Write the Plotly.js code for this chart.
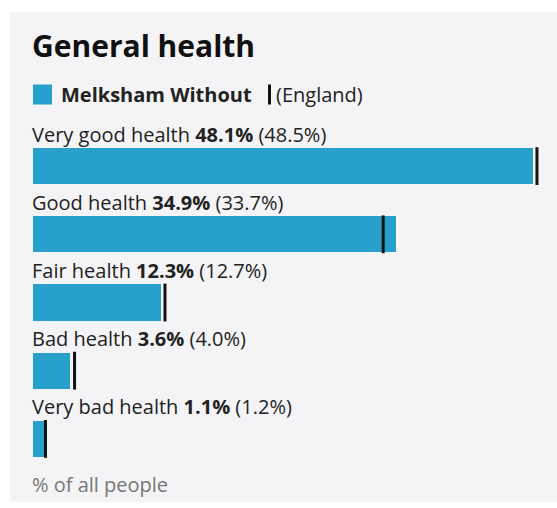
<!DOCTYPE html>
<html>
<head>
<meta charset="utf-8">
<script src="https://cdn.plot.ly/plotly-3.0.1.min.js"></script>
<style>
  html, body { margin: 0; padding: 0; background: #ffffff; width: 557px; height: 508px; overflow: hidden; }
  #chart { position: absolute; left: 10px; top: 12px; width: 547px; height: 490px; }
</style>
</head>
<body>
<div id="chart"></div>
<script>
const categories = ["Very good health", "Good health", "Fair health", "Bad health", "Very bad health"];
const localValues = [48.1, 34.9, 12.3, 3.6, 1.1];
const englandValues = [48.5, 33.7, 12.7, 4.0, 1.2];
const areaName = "Melksham Without";
const comparisonName = "England";
const chartTitle = "General health";
const footerText = "% of all people";

const FONT = "'Open Sans', 'Noto Sans', sans-serif";
const BLUE = "#27a0cc";
const TEXT = "#222222";
const FS = 20;

const bars = {
  type: "bar",
  orientation: "h",
  x: localValues,
  y: categories,
  marker: { color: BLUE },
  width: 0.53,
  hoverinfo: "skip",
  showlegend: false
};

const england = {
  type: "scatter",
  mode: "markers",
  x: englandValues,
  y: categories,
  marker: { symbol: "line-ns-open", size: 27, line: { color: "#111111", width: 3 }, color: "#111111" },
  cliponaxis: false,
  hoverinfo: "skip",
  showlegend: false
};

const annotations = categories.map((c, i) => ({
  xref: "x", yref: "y", x: 0, y: c,
  xanchor: "left", yanchor: "middle",
  yshift: 32, xshift: -3,
  showarrow: false,
  align: "left",
  text: c + " <b>" + localValues[i].toFixed(1) + "%</b> (" + englandValues[i].toFixed(1) + "%)",
  font: { family: FONT, size: FS, color: TEXT }
}));

annotations.push({
  xref: "paper", yref: "paper", x: 0, y: 1,
  xanchor: "left", yanchor: "middle", yshift: 87, xshift: -3,
  showarrow: false,
  text: "<b>" + chartTitle + "</b>",
  font: { family: FONT, size: 30, color: "#111111" }
});
annotations.push({
  xref: "paper", yref: "paper", x: 0, y: 1,
  xanchor: "left", yanchor: "middle", yshift: 37.5, xshift: 26,
  showarrow: false,
  text: "<b>" + areaName + "</b>",
  font: { family: FONT, size: FS, color: TEXT }
});
annotations.push({
  xref: "paper", yref: "paper", x: 0, y: 1,
  xanchor: "left", yanchor: "middle", yshift: 37.5, xshift: 241,
  showarrow: false,
  text: "(" + comparisonName + ")",
  font: { family: FONT, size: FS, color: TEXT }
});
annotations.push({
  xref: "paper", yref: "paper", x: 0, y: 0,
  xanchor: "left", yanchor: "middle", yshift: -11, xshift: -3,
  showarrow: false,
  text: footerText,
  font: { family: FONT, size: FS, color: "#777777" }
});

const shapes = [
  { type: "rect", xref: "paper", yref: "paper", xsizemode: "pixel", ysizemode: "pixel",
    xanchor: 0, yanchor: 1, x0: 0, x1: 19, y0: 27.5, y1: 47.5,
    fillcolor: BLUE, line: { width: 0 } },
  { type: "rect", xref: "paper", yref: "paper", xsizemode: "pixel", ysizemode: "pixel",
    xanchor: 0, yanchor: 1, x0: 235, x1: 238, y0: 27.5, y1: 47.5,
    fillcolor: "#111111", line: { width: 0 } }
];

const layout = {
  width: 547, height: 490,
  margin: { l: 23, r: 19, t: 120, b: 29, pad: 0 },
  paper_bgcolor: "#f4f4f6",
  plot_bgcolor: "rgba(0,0,0,0)",
  font: { family: FONT, color: TEXT },
  xaxis: { range: [0, 48.6], showgrid: false, zeroline: false, showticklabels: false, showline: false, fixedrange: true },
  yaxis: { type: "category", autorange: false, range: [4.5, -0.5], showgrid: false, zeroline: false, showticklabels: false, showline: false, fixedrange: true },
  annotations: annotations,
  shapes: shapes,
  bargap: 0,
  hovermode: false
};

Plotly.newPlot("chart", [bars, england], layout, { displayModeBar: false, staticPlot: true });
</script>
</body>
</html>
